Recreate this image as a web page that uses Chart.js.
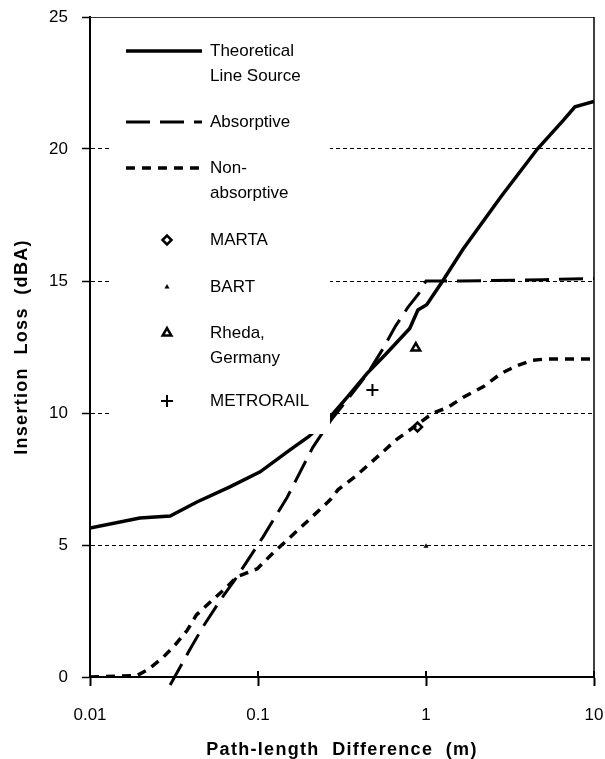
<!DOCTYPE html>
<html>
<head>
<meta charset="utf-8">
<script src="https://cdn.jsdelivr.net/npm/chart.js@4/dist/chart.umd.min.js"></script>
<style>
html, body { margin: 0; padding: 0; background: #fff; }
#wrap { width: 605px; height: 759px; position: relative; }
</style>
</head>
<body>
<div id="wrap"><canvas id="chart"></canvas></div>
<script>
// axis ticks
const xTicks = [0.01, 0.1, 1, 10]
const xTickLabels = ['0.01', '0.1', '1', '10']
const yTicks = [0, 5, 10, 15, 20, 25]

// theoretical line source (solid)
const theoryX = [0.01, 0.0198, 0.03, 0.0433, 0.068, 0.103, 0.155, 0.2, 0.269, 0.34, 0.446, 0.57, 0.8, 0.895, 1.01, 1.245, 1.66, 2.8, 4.6, 6.6, 7.7, 10]
const theoryY = [5.64, 6.02, 6.1, 6.63, 7.2, 7.77, 8.6, 9.1, 9.85, 10.6, 11.5, 12.2, 13.2, 13.9, 14.1, 14.96, 16.2, 18.2, 20.0, 21.1, 21.6, 21.8]

// absorptive barrier (long dash)
const absorbX = [0.03, 0.039, 0.047, 0.061, 0.075, 0.107, 0.149, 0.212, 0.27, 0.33, 0.45, 0.55, 0.66, 0.78, 0.9, 1.0, 1.6, 5, 10]
const absorbY = [-0.3, 1.0, 1.9, 3.0, 3.8, 5.3, 6.8, 8.7, 9.7, 10.4, 11.5, 12.4, 13.3, 14.0, 14.5, 15.0, 15.0, 15.05, 15.1]

// non-absorptive barrier (short dash)
const nonAbsX = [0.01, 0.019, 0.022, 0.027, 0.032, 0.038, 0.043, 0.052, 0.065, 0.075, 0.099, 0.123, 0.178, 0.268, 0.3, 0.38, 0.466, 0.57, 0.67, 0.86, 1.1, 1.34, 1.67, 2.2, 2.8, 3.5, 4.3, 5.3, 10]
const nonAbsY = [0, 0.05, 0.27, 0.72, 1.2, 1.78, 2.35, 2.84, 3.4, 3.8, 4.1, 4.7, 5.64, 6.7, 7.1, 7.6, 8.1, 8.6, 9.0, 9.5, 10.0, 10.2, 10.6, 11.0, 11.5, 11.8, 12.0, 12.05, 12.05]

// measured sites
const martaPoint = [0.89, 9.47]
const bartPoint = [1.0, 4.95]
const rhedaPoint = [0.87, 12.46]
const metroPoint = [0.48, 10.87]

const legendLabels = [
    ['Theoretical', 'Line Source'],
    ['Absorptive'],
    ['Non-', 'absorptive'],
    ['MARTA'],
    ['BART'],
    ['Rheda,', 'Germany'],
    ['METRORAIL']
]

const FONT = "'Liberation Sans', Arial, Helvetica, sans-serif"

function pairs(xs, ys) {
    return xs.map((x, i) => ({ x, y: ys[i] }))
}

// title letter spacing only for axis titles (ticks are drawn later, z: 1)
const spacingPlugin = {
    id: 'spacing',
    beforeDraw(chart) {
        chart.ctx.letterSpacing = '1.3px'
    },
    beforeDatasetsDraw(chart) {
        chart.ctx.letterSpacing = '0px'
    }
}

const legendBoxPlugin = {
    id: 'legendBox',
    afterDatasetsDraw(chart) {
        const { ctx, chartArea } = chart
        const sc = chart.scales

        ctx.save()

        // white legend panel hides grid and lines beneath it
        ctx.fillStyle = '#fff'
        ctx.fillRect(112, chartArea.top + 2, 330 - 112, 434 - chartArea.top - 2)

        const rowOffsets = [34, 105, 151, 223, 270, 316, 384]
        const lineH = 25
        const sampleL = 126
        const sampleR = 202
        const textX = 210

        chart.data.datasets.forEach((ds, i) => {
            const y = chartArea.top + rowOffsets[i]
            ctx.strokeStyle = '#000'
            ctx.fillStyle = ds.backgroundColor || '#000'
            if (ds.showLine !== false) {
                ctx.save()
                ctx.lineWidth = ds.borderWidth
                ctx.setLineDash(ds.borderDash || [])
                ctx.beginPath()
                ctx.moveTo(sampleL, y)
                ctx.lineTo(sampleR, y)
                ctx.stroke()
                ctx.restore()
            } else {
                ctx.lineWidth = ds.pointBorderWidth
                Chart.helpers.drawPoint(ctx, {
                    pointStyle: ds.pointStyle,
                    radius: ds.pointRadius,
                    borderWidth: ds.pointBorderWidth,
                    rotation: 0
                }, 167, y)
            }
            ctx.fillStyle = '#000'
            ctx.font = '17px ' + FONT
            ctx.textBaseline = 'middle'
            ctx.textAlign = 'left'
            legendLabels[i].forEach((t, k) => {
                ctx.fillText(t, textX, y + k * lineH)
            })
        })

        // frame: top and right edges
        ctx.setLineDash([])
        ctx.strokeStyle = '#333'
        ctx.lineWidth = 1
        ctx.beginPath()
        ctx.moveTo(chartArea.left, chartArea.top + 0.5)
        ctx.lineTo(chartArea.right, chartArea.top + 0.5)
        ctx.stroke()
        ctx.strokeStyle = '#000'
        ctx.lineWidth = 1.5
        ctx.beginPath()
        ctx.moveTo(chartArea.right, chartArea.top)
        ctx.lineTo(chartArea.right, chartArea.bottom)
        ctx.stroke()

        // x ticks also poke up into the plot
        ctx.lineWidth = 2
        xTicks.forEach(v => {
            const px = sc.x.getPixelForValue(v)
            ctx.beginPath()
            ctx.moveTo(px, chartArea.bottom)
            ctx.lineTo(px, chartArea.bottom - 6)
            ctx.stroke()
        })

        ctx.restore()
    }
}

const canvas = document.getElementById('chart')

new Chart(canvas, {
    type: 'line',
    data: {
        datasets: [
            {
                label: 'Theoretical Line Source',
                data: pairs(theoryX, theoryY),
                borderColor: '#000',
                borderWidth: 3.5,
                pointRadius: 0,
                tension: 0
            },
            {
                label: 'Absorptive',
                data: pairs(absorbX, absorbY),
                borderColor: '#000',
                borderWidth: 3,
                borderDash: [24, 10],
                pointRadius: 0,
                tension: 0,
                clip: { left: 0, top: 0, right: 0, bottom: 12 }
            },
            {
                label: 'Non-absorptive',
                data: pairs(nonAbsX, nonAbsY),
                borderColor: '#000',
                borderWidth: 3.5,
                borderDash: [9, 7],
                pointRadius: 0,
                tension: 0
            },
            {
                label: 'MARTA',
                data: [{ x: martaPoint[0], y: martaPoint[1] }],
                showLine: false,
                pointStyle: 'rectRot',
                pointRadius: 4.5,
                pointBorderWidth: 2.5,
                borderColor: '#000',
                backgroundColor: '#fff'
            },
            {
                label: 'BART',
                data: [{ x: bartPoint[0], y: bartPoint[1] }],
                showLine: false,
                pointStyle: 'triangle',
                pointRadius: 2.5,
                pointBorderWidth: 0.5,
                borderColor: '#000',
                backgroundColor: '#000'
            },
            {
                label: 'Rheda, Germany',
                data: [{ x: rhedaPoint[0], y: rhedaPoint[1] }],
                showLine: false,
                pointStyle: 'triangle',
                pointRadius: 5,
                pointBorderWidth: 2.5,
                borderColor: '#000',
                backgroundColor: '#fff'
            },
            {
                label: 'METRORAIL',
                data: [{ x: metroPoint[0], y: metroPoint[1] }],
                showLine: false,
                pointStyle: 'cross',
                pointRadius: 6,
                pointBorderWidth: 2,
                borderColor: '#000',
                backgroundColor: '#000'
            }
        ]
    },
    options: {
        responsive: true,
        maintainAspectRatio: false,
        animation: false,
        devicePixelRatio: 1,
        layout: {
            padding: { top: 17, right: 11, left: 0, bottom: 0 }
        },
        plugins: {
            legend: { display: false },
            tooltip: { enabled: false }
        },
        scales: {
            x: {
                type: 'logarithmic',
                min: 0.01,
                max: 10,
                afterBuildTicks: s => {
                    s.ticks = xTicks.map(v => ({ value: v }))
                },
                afterFit: s => {
                    s.height = 82
                    s.paddingLeft = 0
                    s.paddingRight = 0
                },
                ticks: {
                    callback: (v, i) => xTickLabels[i],
                    color: '#000',
                    font: { family: FONT, size: 17 },
                    padding: 19,
                    maxRotation: 0,
                    autoSkip: false,
                    z: 1
                },
                grid: {
                    drawOnChartArea: false,
                    drawTicks: true,
                    tickLength: 9,
                    tickColor: '#000',
                    tickWidth: 2
                },
                border: { display: true, color: '#000', width: 2 },
                title: {
                    display: true,
                    text: 'Path-length  Difference  (m)',
                    color: '#000',
                    font: { family: FONT, size: 18, weight: 'bold' },
                    padding: { top: 0, bottom: -2 }
                }
            },
            y: {
                min: 0,
                max: 25,
                afterBuildTicks: s => {
                    s.ticks = yTicks.map(v => ({ value: v }))
                },
                afterFit: s => {
                    s.width = 90
                    s.paddingTop = 0
                    s.paddingBottom = 0
                },
                ticks: {
                    color: '#000',
                    font: { family: FONT, size: 17 },
                    padding: 14,
                    z: 1
                },
                grid: {
                    color: c => (c.tick && (c.tick.value === 0 || c.tick.value === 25)) ? 'rgba(0,0,0,0)' : '#000',
                    lineWidth: 1,
                    tickLength: 8,
                    tickColor: '#000',
                    tickWidth: 1.5
                },
                border: { display: true, color: '#000', width: 2, dash: [4, 3] },
                title: {
                    display: true,
                    text: 'Insertion  Loss  (dBA)',
                    color: '#000',
                    font: { family: FONT, size: 18, weight: 'bold' },
                    padding: { top: 11, bottom: 0 }
                }
            }
        }
    },
    plugins: [spacingPlugin, legendBoxPlugin]
})
</script>
</body>
</html>
